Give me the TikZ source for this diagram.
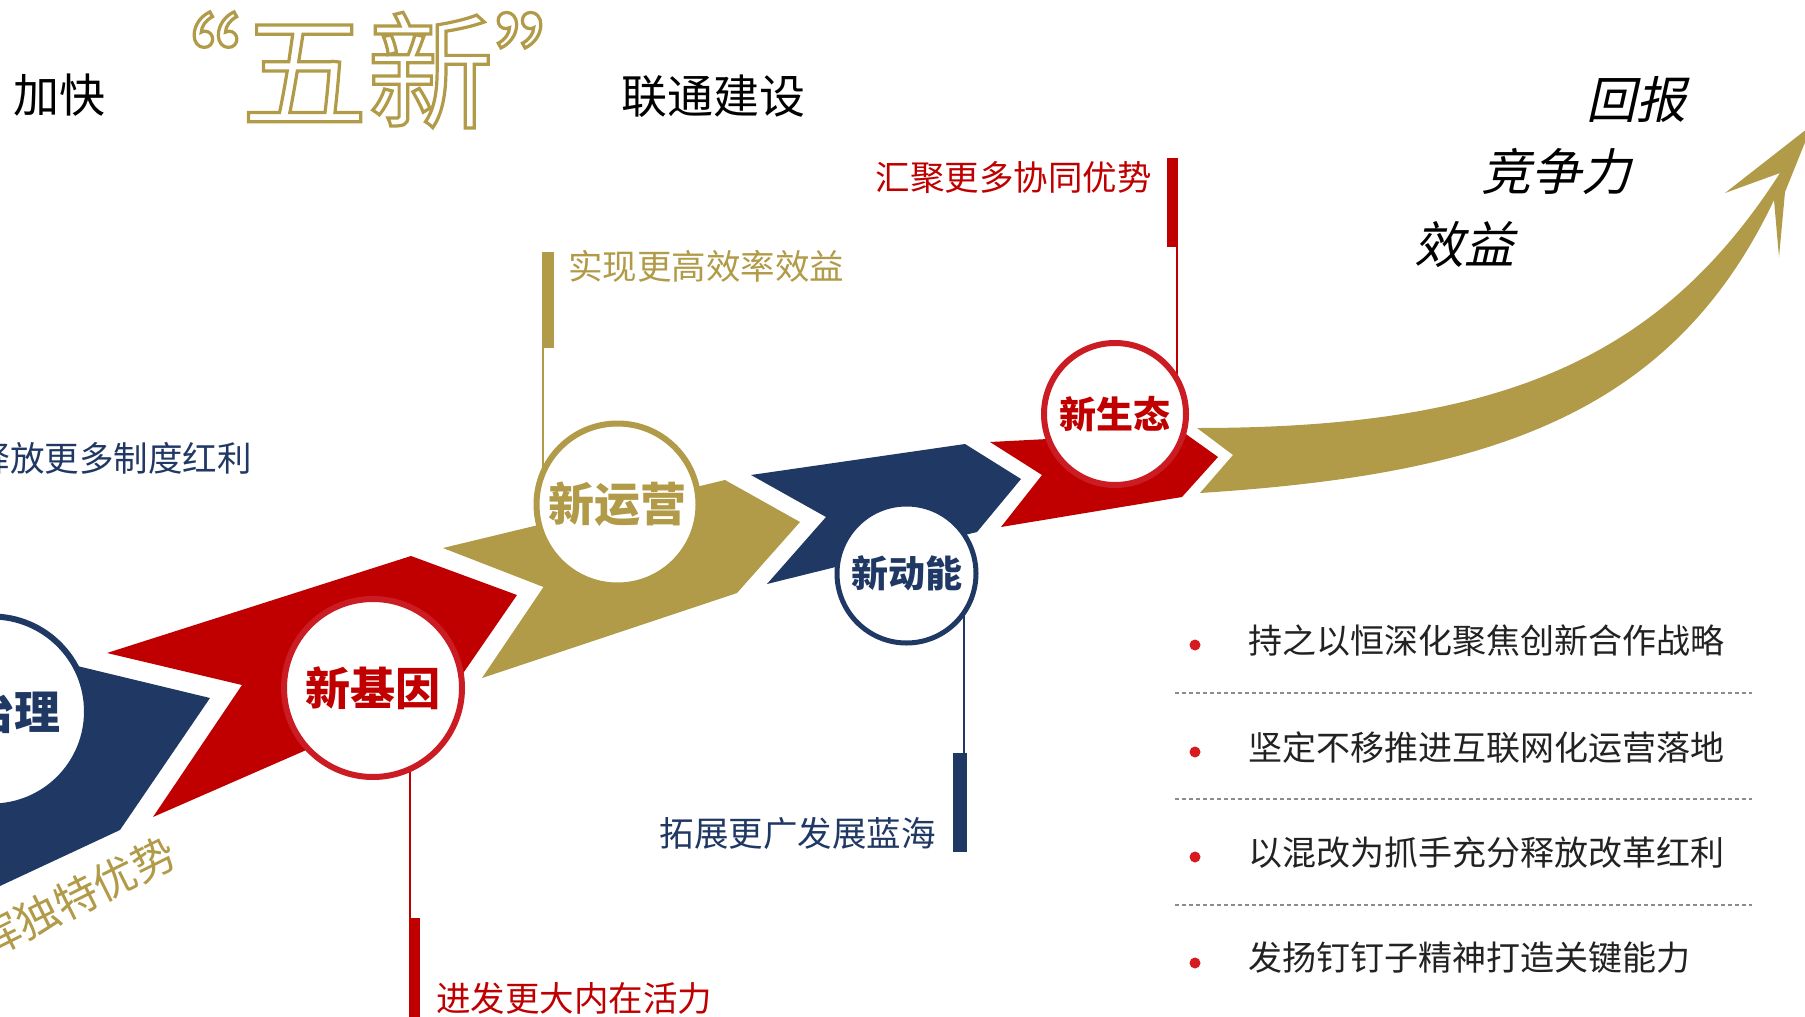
\documentclass[tikz,border=0pt]{standalone}
\usepackage{fontspec}
\setmainfont{Noto Sans CJK SC}
\newfontfamily\cjkit[FakeSlant=0.22]{Noto Sans CJK SC}
\definecolor{navy}{HTML}{203864}
\definecolor{rred}{HTML}{C00000}
\definecolor{crim}{HTML}{CB1B23}
\definecolor{goldc}{HTML}{B19A48}
\definecolor{dotred}{HTML}{D71920}
\definecolor{txt}{HTML}{222222}
\definecolor{dashg}{HTML}{8C8C8C}
\tikzset{
  ring/.style={circle, fill=white, inner sep=0pt, line width=6pt},
  barbox/.style={rectangle, inner sep=0pt, draw=none},
  lbl/.style={inner sep=0pt, font=\fontsize{34.5pt}{36pt}\selectfont},
  item/.style={inner sep=0pt, anchor=west, text=txt, font=\fontsize{34pt}{36pt}\selectfont},
  dotn/.style={circle, fill=dotred, inner sep=0pt, minimum size=11pt},
  sep/.style={dashg, line width=1.3pt, dash pattern=on 4pt off 3pt},
  ttl/.style={inner sep=0pt, font=\fontsize{46pt}{48pt}\selectfont},
  ital/.style={inner sep=0pt, font=\cjkit\fontsize{50pt}{52pt}\selectfont},
}
\begin{document}
\begin{tikzpicture}[x=1pt,y=-1pt]
\useasboundingbox (0,0) rectangle (1805,1017);
\clip (0,0) rectangle (1805,1017);
\fill[white] (0,0) rectangle (1805,1017);

% ribbon pieces
\fill[navy] (-150,720) -- (40,657) -- (210,698) -- (120,830) -- (-150,956) -- cycle;
\fill[rred] (107,653) -- (411,556) -- (517,595) -- (455,685) -- (153,817) -- (242,685) -- cycle;
\fill[goldc] (443,548) -- (725,480) -- (800,522) -- (737,593) -- (482,678) -- (543.5,587) -- cycle;
\fill[navy] (751,475) -- (965,444) -- (1021,479) -- (977,532) -- (767,584) -- (826,517) -- cycle;
\fill[rred] (990,442) -- (1183,432) -- (1218,457) -- (1182,497) -- (1001,527) -- (1042,475) -- cycle;
\fill[goldc] (1197,428) .. controls (1500,428) and (1660,360) .. (1780,173)
  -- (1725,193) -- (1812,125) -- (1785,192) -- (1779,257) -- (1774,200)
  .. controls (1670,420) and (1480,475) .. (1200,493) -- (1233,455) -- cycle;

% circle centres
\coordinate (zhiliC) at (-8,711.5);
\coordinate (jiyinC) at (373,688);
\coordinate (yunC) at (617.5,504.5);
\coordinate (dongC) at (906.5,573.5);
\coordinate (shengC) at (1115,414);

% bars
\node[barbox, fill=goldc, minimum width=12pt, minimum height=96pt] (barG) at (548,300) {};
\node[barbox, fill=rred, minimum width=11pt, minimum height=89pt] (barR1) at (1172.5,202.5) {};
\node[barbox, fill=rred, minimum width=11pt, minimum height=99pt] (barR2) at (414.5,967.5) {};
\node[barbox, fill=navy, minimum width=14pt, minimum height=99pt] (barB) at (960,802.5) {};

% leader lines
\draw[goldc, line width=2pt] ([xshift=1pt]barG.south west) -- ([xshift=1pt]barG.south west |- yunC);
\draw[rred, line width=2pt] ([xshift=-1pt]barR1.south east) -- ([xshift=-1pt]barR1.south east |- shengC);
\draw[rred, line width=2.2pt] ([xshift=1pt]barR2.north west) -- ([xshift=1pt]barR2.north west |- jiyinC);
\draw[navy, line width=2pt] ([xshift=-3pt]barB.north east) -- ([xshift=-3pt]barB.north east |- dongC);

% circles
\node[ring, draw=navy, minimum size=190pt, text=navy, font=\bfseries\fontsize{46pt}{48pt}\selectfont] (zhili) at (zhiliC) {新治理};
\node[ring, draw=crim, minimum size=178pt, text=rred, font=\bfseries\fontsize{45pt}{47pt}\selectfont] (jiyin) at (jiyinC) {新基因};
\node[ring, draw=goldc, minimum size=162pt, text=goldc, font=\bfseries\fontsize{46pt}{48pt}\selectfont] (yun) at (yunC) {新运营};
\node[ring, draw=navy, line width=5pt, minimum size=139pt, text=navy, font=\bfseries\fontsize{37pt}{39pt}\selectfont] (dong) at (dongC) {新动能};
\node[ring, draw=crim, minimum size=142pt, text=rred, font=\bfseries\fontsize{37pt}{39pt}\selectfont] (sheng) at (shengC) {新生态};

% labels
\node[lbl, text=goldc, anchor=west] (tG) at (568,266) {实现更高效率效益};
\node[lbl, text=rred, anchor=east] (tR1) at (1152,178) {汇聚更多协同优势};
\node[lbl, text=rred, anchor=west] (tR2) at (436,998) {进发更大内在活力};
\node[lbl, text=navy, anchor=east] (tB) at (936,833) {拓展更广发展蓝海};
\node[lbl, text=navy, anchor=east] (tL) at (252,458) {释放更多制度红利};
\node[lbl, text=goldc, rotate=26.4, font=\fontsize{43pt}{45pt}\selectfont] (tRot) at (57,907) {发挥独特优势};

% title
\node[ttl] (jk) at (59,95) {加快};
\node[ttl] (lt) at (713,96) {联通建设};
\node[inner sep=0pt, text=goldc, font=\fontsize{126pt}{130pt}\selectfont] (wx) at (367.5,70)
  {\special{pdf:literal direct 1 Tr 3.2 w}“五新”\special{pdf:literal direct 0 Tr}};

% right italic words
\node[ital] (hb) at (1636,100) {回报};
\node[ital] (jzl) at (1556,171) {竞争力};
\node[ital] (xy) at (1464,245) {效益};

% bullet list
\node[dotn] (b1) at (1195,645) {};
\node[dotn] (b2) at (1195,752) {};
\node[dotn] (b3) at (1195,857) {};
\node[dotn] (b4) at (1195,963) {};
\node[item] (i1) at (1248,641) {持之以恒深化聚焦创新合作战略};
\node[item] (i2) at (1248,747.5) {坚定不移推进互联网化运营落地};
\node[item] (i3) at (1248,852.5) {以混改为抓手充分释放改革红利};
\node[item] (i4) at (1248,958) {发扬钉钉子精神打造关键能力};
\draw[sep] (1175,693) -- (1752,693);
\draw[sep] (1175,799) -- (1752,799);
\draw[sep] (1175,905) -- (1752,905);
\end{tikzpicture}
\end{document}
